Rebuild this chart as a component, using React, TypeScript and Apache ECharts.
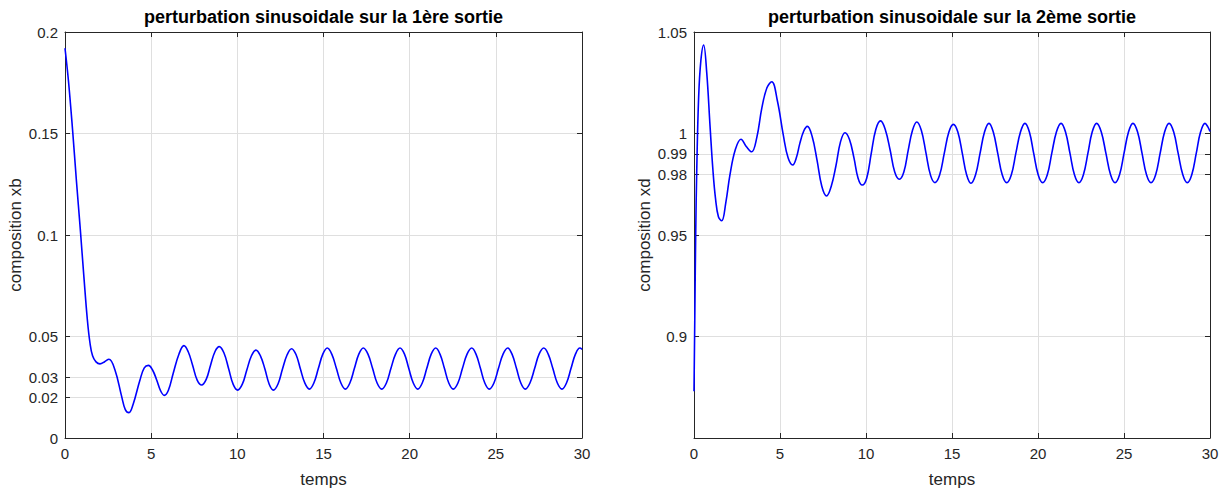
import React, { useEffect, useRef } from "react";
import * as echarts from "echarts";

// ---- data: [temps, composition] ----
const courbeXb: number[][] = [
  [0, 0.192], [0.2, 0.176], [0.44, 0.1517], [0.66, 0.127], [0.89, 0.1025], [1.1, 0.079],
  [1.3, 0.058], [1.45, 0.0468], [1.6, 0.0405], [1.8, 0.0375],
  [2.03, 0.0365], [2.3, 0.0376], [2.55, 0.0388], [2.9, 0.0335], [3.29, 0.0204], [3.5, 0.014],
  [3.71, 0.0125], [3.95, 0.0165], [4.35, 0.0286], [4.6, 0.0345], [4.84, 0.0358], [5.08, 0.0335],
  [5.32, 0.0286], [5.55, 0.0232], [5.76, 0.021], [6.0, 0.0235], [6.28, 0.0319], [6.62, 0.0415],
  [6.9, 0.0455], [7.15, 0.0425], [7.4, 0.036], [7.67, 0.0285], [7.93, 0.0261], [8.2, 0.029],
  [8.45, 0.036], [8.7, 0.0425], [8.95, 0.045], [9.22, 0.042], [9.5, 0.034], [9.76, 0.0264],
  [10.02, 0.0236], [10.29, 0.0265], [10.55, 0.0335], [10.82, 0.0405], [11.08, 0.0433],
  [11.34, 0.0405], [11.6, 0.034], [11.85, 0.0265], [12.09, 0.0236], [12.36, 0.0266],
  [12.62, 0.034], [12.89, 0.041], [13.15, 0.044], [13.41, 0.041], [13.66, 0.034],
  [13.92, 0.027], [14.18, 0.0241], [14.44, 0.0271], [14.7, 0.0342], [14.96, 0.0413],
  [15.22, 0.0443], [15.48, 0.0413], [15.75, 0.0342], [16.01, 0.0271], [16.27, 0.0241],
  [16.53, 0.0271], [16.79, 0.0342], [17.05, 0.0413], [17.31, 0.0443], [17.58, 0.0413],
  [17.85, 0.0342], [18.11, 0.0271], [18.38, 0.0241], [18.65, 0.0271], [18.91, 0.0342],
  [19.18, 0.0413], [19.44, 0.0443], [19.7, 0.0413], [19.95, 0.0342], [20.21, 0.0271],
  [20.47, 0.0241], [20.73, 0.0271], [20.99, 0.0342], [21.25, 0.0413], [21.51, 0.0443],
  [21.76, 0.0413], [22.02, 0.0342], [22.27, 0.0271], [22.53, 0.0241], [22.8, 0.0271],
  [23.06, 0.0342], [23.33, 0.0413], [23.6, 0.0443], [23.85, 0.0413], [24.11, 0.0342],
  [24.36, 0.0271], [24.62, 0.0241], [24.89, 0.0271], [25.15, 0.0342], [25.42, 0.0413],
  [25.69, 0.0443], [25.94, 0.0413], [26.2, 0.0342], [26.45, 0.0271], [26.71, 0.0241],
  [26.98, 0.0271], [27.25, 0.0342], [27.51, 0.0413], [27.78, 0.0443], [28.04, 0.0413],
  [28.31, 0.0342], [28.57, 0.0271], [28.84, 0.0241], [29.1, 0.0271], [29.36, 0.0342],
  [29.62, 0.0413], [29.88, 0.0443], [30, 0.0437],
];

const courbeXd: number[][] = [
  [0, 0.873], [0.05, 0.912], [0.1, 0.9513], [0.16, 0.982], [0.27, 1.018], [0.4, 1.036],
  [0.56, 1.0436], [0.74, 1.03], [0.93, 1.004], [1.1, 0.982], [1.25, 0.968], [1.42, 0.959],
  [1.61, 0.957], [1.85, 0.966], [2.09, 0.9796], [2.4, 0.992], [2.73, 0.9972], [3.05, 0.9935],
  [3.35, 0.991], [3.65, 0.998], [3.94, 1.0124], [4.24, 1.0225], [4.52, 1.0255], [4.85, 1.016],
  [5.19, 0.9993], [5.47, 0.988], [5.74, 0.9845], [5.95, 0.988], [6.15, 0.995], [6.37, 1.001],
  [6.59, 1.0035], [6.87, 0.9985], [7.15, 0.987], [7.43, 0.974], [7.71, 0.9692], [7.98, 0.974],
  [8.25, 0.984], [8.52, 0.996], [8.78, 1.0004], [9.04, 0.997], [9.3, 0.988], [9.54, 0.978],
  [9.78, 0.9746], [10.04, 0.978], [10.3, 0.99], [10.57, 1.002], [10.85, 1.0062], [11.12, 1.002],
  [11.4, 0.992], [11.67, 0.981], [11.94, 0.9775], [12.2, 0.981], [12.45, 0.9916],
  [12.7, 1.0015], [12.95, 1.0057], [13.22, 1.0015], [13.48, 0.9907], [13.75, 0.9795],
  [14.01, 0.9758], [14.28, 0.9795], [14.55, 0.9902], [14.82, 1.0007], [15.08, 1.0045],
  [15.34, 1.0007], [15.6, 0.9902], [15.85, 0.9797], [16.1, 0.9755], [16.37, 0.9797],
  [16.63, 0.9902], [16.89, 1.0007], [17.15, 1.005], [17.4, 1.0007], [17.66, 0.9902],
  [17.92, 0.9797], [18.18, 0.9758], [18.45, 0.9797], [18.71, 0.9902], [18.98, 1.0007],
  [19.24, 1.005], [19.5, 1.0007], [19.75, 0.9902], [20.01, 0.9797], [20.27, 0.9758],
  [20.54, 0.9797], [20.8, 0.9902], [21.07, 1.0007], [21.34, 1.005], [21.6, 1.0007],
  [21.86, 0.9902], [22.12, 0.9797], [22.38, 0.9758], [22.64, 0.9797], [22.9, 0.9902],
  [23.15, 1.0007], [23.41, 1.005], [23.68, 1.0007], [23.95, 0.9902], [24.22, 0.9797],
  [24.48, 0.9758], [24.74, 0.9797], [25.0, 0.9902], [25.26, 1.0007], [25.52, 1.005],
  [25.79, 1.0007], [26.05, 0.9902], [26.31, 0.9797], [26.57, 0.9758], [26.84, 0.9797],
  [27.1, 0.9902], [27.36, 1.0007], [27.62, 1.005], [27.89, 1.0007], [28.15, 0.9902],
  [28.42, 0.9797], [28.68, 0.9758], [28.94, 0.9797], [29.2, 0.9902], [29.45, 1.0007],
  [29.71, 1.005], [29.86, 1.0035], [30, 1.001],
];

const xbTicks: number[] = [0, 0.02, 0.03, 0.05, 0.1, 0.15, 0.2];
const xdTicks: number[] = [0.9, 0.95, 0.98, 0.99, 1, 1.05];
const titles: string[] = [
  "perturbation sinusoidale sur la 1ère sortie",
  "perturbation sinusoidale sur la 2ème sortie",
];
const yNames: string[] = ["composition xb", "composition xd"];
const xName = "temps";

const FONT = "'Liberation Sans', Arial, Helvetica, sans-serif";
const AXIS_COLOR = "#262626";
const GRID_COLOR = "#dfdfdf";

export default function App() {
  const ref = useRef<HTMLDivElement>(null);
  useEffect(() => {
    if (!ref.current) return;
    const chart = echarts.init(ref.current, undefined, { renderer: "svg" });

    const grids = [
      { left: 65, right: 647, top: 32, bottom: 52, outerBoundsMode: "none", containLabel: false },
      { left: 694, right: 19, top: 32, bottom: 52, outerBoundsMode: "none", containLabel: false },
    ];
    const yRanges = [
      { min: 0, max: 0.2, ticks: xbTicks },
      { min: 0.85, max: 1.05, ticks: xdTicks },
    ];

    const xAxes: any[] = [];
    const yAxes: any[] = [];
    [0, 1].forEach((g) => {
      xAxes.push({
        type: "value",
        gridIndex: g,
        position: "bottom",
        min: 0,
        max: 30,
        interval: 5,
        name: xName,
        nameLocation: "middle",
        nameGap: 33,
        nameTextStyle: { fontFamily: FONT, fontSize: 17, color: AXIS_COLOR },
        axisLine: { show: true, onZero: false, lineStyle: { color: AXIS_COLOR, width: 1 } },
        axisTick: { show: true, inside: true, length: 5, lineStyle: { color: AXIS_COLOR } },
        axisLabel: { fontFamily: FONT, fontSize: 15, color: AXIS_COLOR, margin: 8 },
        splitLine: { show: true, lineStyle: { color: GRID_COLOR, width: 1 } },
      });
      xAxes.push({
        type: "value",
        gridIndex: g,
        position: "top",
        min: 0,
        max: 30,
        interval: 5,
        axisLine: { show: true, onZero: false, lineStyle: { color: AXIS_COLOR, width: 1 } },
        axisTick: { show: true, inside: true, length: 5, lineStyle: { color: AXIS_COLOR } },
        axisLabel: { show: false },
        splitLine: { show: false },
      });
      const r = yRanges[g];
      yAxes.push({
        type: "value",
        gridIndex: g,
        position: "left",
        min: r.min,
        max: r.max,
        name: yNames[g],
        nameLocation: "middle",
        nameGap: 41,
        nameTextStyle: { fontFamily: FONT, fontSize: 17, color: AXIS_COLOR },
        axisLine: { show: true, onZero: false, lineStyle: { color: AXIS_COLOR, width: 1 } },
        axisTick: {
          show: true,
          inside: true,
          length: 5,
          customValues: r.ticks,
          lineStyle: { color: AXIS_COLOR },
        },
        axisLabel: {
          fontFamily: FONT,
          fontSize: 15,
          color: AXIS_COLOR,
          margin: 7,
          customValues: r.ticks,
          formatter: (v: number) => String(parseFloat(v.toFixed(4))),
        },
        splitLine: { show: true, lineStyle: { color: GRID_COLOR, width: 1 } },
      });
      yAxes.push({
        type: "value",
        gridIndex: g,
        position: "right",
        min: r.min,
        max: r.max,
        axisLine: { show: true, onZero: false, lineStyle: { color: AXIS_COLOR, width: 1 } },
        axisTick: {
          show: true,
          inside: true,
          length: 5,
          customValues: r.ticks,
          lineStyle: { color: AXIS_COLOR },
        },
        axisLabel: { show: false, customValues: r.ticks },
        splitLine: { show: false },
      });
    });

    const seriesData = [courbeXb, courbeXd];

    chart.setOption({
      animation: false,
      backgroundColor: "#ffffff",
      grid: grids,
      xAxis: xAxes,
      yAxis: yAxes,
      graphic: titles.map((t, i) => ({
        type: "text",
        x: i === 0 ? 323.5 : 952,
        y: 17,
        style: {
          text: t,
          fontFamily: FONT,
          fontSize: 18,
          fontWeight: "bold",
          fill: "#000000",
          align: "center",
          verticalAlign: "middle",
        },
      })),
      series: [0, 1].map((g) => ({
        type: "line",
        xAxisIndex: g * 2,
        yAxisIndex: g * 2,
        data: seriesData[g],
        smooth: 0.4,
        showSymbol: false,
        symbol: "none",
        lineStyle: { color: "#0000ff", width: 1.6 },
        clip: true,
      })),
    });
    return () => chart.dispose();
  }, []);
  return (
    <div
      ref={ref}
      style={{ position: "fixed", left: 0, top: 0, width: 1229, height: 490, background: "#fff" }}
    />
  );
}
